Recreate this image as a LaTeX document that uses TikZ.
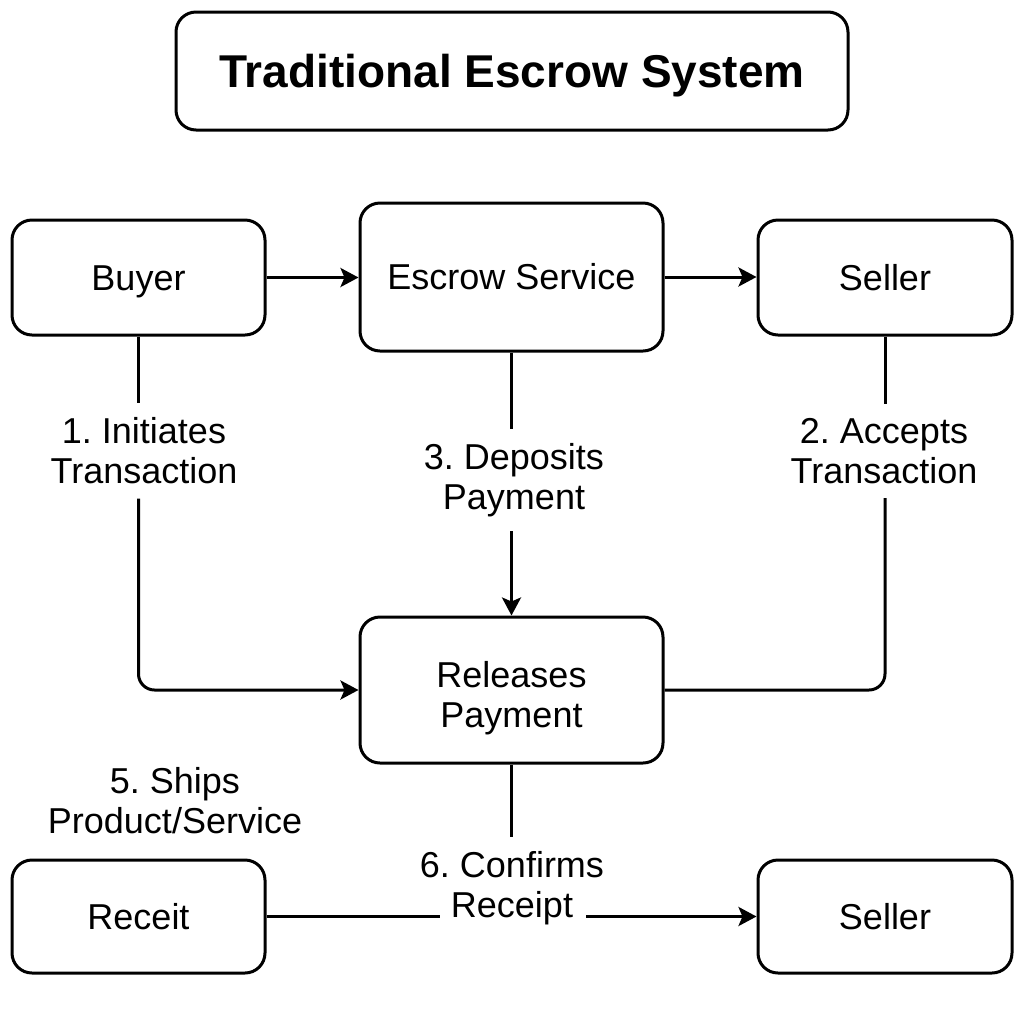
\documentclass[tikz,border=0pt]{standalone}
\usepackage{fontspec}
\setmainfont{Liberation Sans}
\usetikzlibrary{arrows.meta}
\frenchspacing
\begin{document}
\begin{tikzpicture}[x=0.5pt,y=-0.5pt,
  box/.style={draw, line width=1.5pt, rounded corners=10pt, align=center,
    font=\fontsize{18}{20}\selectfont, inner sep=0pt, text height=12.9pt, text depth=0pt},
  lbl/.style={align=center, font=\fontsize{18}{20}\selectfont, inner xsep=2pt, inner ysep=7pt},
  conn/.style={line width=1.5pt},
  arr/.style={conn, -{Stealth[length=9pt,width=9.5pt,inset=2pt]}}]
\useasboundingbox (0,0) rectangle (1024,1024);
% boxes
\node[box, minimum width=336pt, minimum height=59pt, text height=16.4pt,
  font=\bfseries\fontsize{23}{26}\selectfont] (title) at (512,71) {Traditional Escrow System};
\node[box, minimum width=126.5pt, minimum height=57.5pt] (buyer) at (138.5,277.5) {Buyer};
\node[box, minimum width=151.5pt, minimum height=74pt] (escrow) at (511.5,277) {Escrow Service};
\node[box, minimum width=127pt, minimum height=57.5pt] (seller) at (885,277.5) {Seller};
\node[box, minimum width=151.5pt, minimum height=73pt, text height=37pt] (rel) at (511.5,690) {Releases\\Payment};
\node[box, minimum width=126.5pt, minimum height=56.5pt] (receit) at (138.5,916.5) {Receit};
\node[box, minimum width=127pt, minimum height=56.5pt] (seller2) at (885,916.5) {Seller};
% labels
\node[lbl] (l1) at (144,451) {1. Initiates\\Transaction};
\node[lbl] (l2) at (884,451) {2. Accepts\\Transaction};
\node[lbl] (l3) at (514,480) {3. Deposits\\Payment};
\node[lbl] (l5) at (175,801) {5. Ships\\Product/Service};
\node[lbl] (l6) at (512,888) {6. Confirms\\Receipt};
\coordinate (g6a) at (440,916.5);
\coordinate (g6b) at (586,916.5);
% connectors
\draw[arr] (buyer.east) -- (buyer.east -| escrow.west);
\draw[arr] (escrow.east) -- (escrow.east -| seller.west);
\draw[conn] (buyer.south) -- (buyer.south |- l1.north);
\draw[arr, rounded corners=8pt] (buyer.south |- l1.south) |- (rel.west);
\draw[conn] (seller.south) -- (seller.south |- l2.north);
\draw[conn, rounded corners=8pt] (seller.south |- l2.south) |- (rel.east);
\draw[conn] (escrow.south) -- (escrow.south |- l3.north);
\draw[arr] (escrow.south |- l3.south) -- (rel.north);
\draw[conn] (rel.south) -- (rel.south |- l6.north);
\draw[conn] (receit.east) -- (g6a);
\draw[arr] (g6b) -- (seller2.west);
\end{tikzpicture}
\end{document}
